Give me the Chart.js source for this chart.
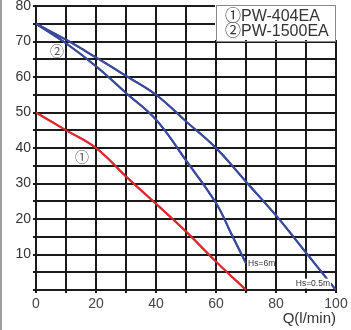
<!DOCTYPE html>
<html>
<head>
<meta charset="utf-8">
<script src="https://cdn.jsdelivr.net/npm/chart.js@4/dist/chart.umd.min.js"></script>
<style>
  html, body { margin: 0; padding: 0; background: #fff; }
  .q { width: 351px; height: 330px; position: absolute; left: 0; top: 0; }
</style>
</head>
<body>
<div class="q"><canvas id="pump"></canvas></div>
<script>
// pump curves: Q (l/min) -> head (m)
const flow404  = [0, 10, 20, 30, 40, 50, 60, 70];
const head404  = [50, 45, 40, 32, 24.3, 16.5, 8, 0];
const flowHs05 = [0, 10, 20, 30, 40, 50, 60, 70, 80, 90, 100];
const headHs05 = [75, 70.5, 65.5, 60.3, 55, 47.5, 40, 30.5, 21, 10.5, 0];
const flowHs6  = [0, 10, 20, 30, 40, 50, 60, 65, 70];
const headHs6  = [75, 69.5, 63, 55.5, 48, 36.5, 24.5, 16, 7.5];

const legendLines = ['\u2460PW-404EA', '\u2461PW-1500EA'];
const xTitle = 'Q(l/min)';

const ink  = '#1a1a1a';
const red  = '#e2262c';
const blue = '#3a4a9c';
const FONT = 'Arial, "Liberation Sans", "Noto Sans CJK SC", sans-serif';

const pts = (xs, ys) => xs.map((x, i) => ({ x, y: ys[i] }));

// grid went missing when drawn before the curves, so lay it down after
// them from the scales' ticks and then put the curve elements back on top
const gridLines = {
  id: 'gridLines',
  afterDatasetsDraw(chart) {
    const { ctx, chartArea: a, scales } = chart;
    ctx.save();
    ctx.strokeStyle = ink;
    ctx.lineWidth = 2;
    ctx.beginPath();
    scales.x.ticks.forEach(t => {
      const p = Math.round(scales.x.getPixelForValue(t.value));
      ctx.moveTo(p, a.top - 1);
      ctx.lineTo(p, a.bottom + 1);
    });
    scales.y.ticks.forEach(t => {
      const p = Math.round(scales.y.getPixelForValue(t.value));
      ctx.moveTo(a.left - 1, p);
      ctx.lineTo(a.right + 1, p);
    });
    ctx.stroke();
    ctx.restore();

    chart.data.datasets.forEach((d, i) => {
      const line = chart.getDatasetMeta(i).dataset;
      if (!line) return;
      ctx.save();
      ctx.beginPath();
      ctx.rect(a.left, a.top - 2, a.right - a.left, a.bottom - a.top + 4);
      ctx.clip();
      line.draw(ctx, a);
      ctx.restore();
    });
  }
};

// legend box, circled markers and Hs notes
const notes = {
  id: 'notes',
  afterDatasetsDraw(chart) {
    const c = chart.ctx, xs = chart.scales.x, ys = chart.scales.y;
    c.save();
    // left edge of the scan
    c.fillStyle = '#a0a0a0';
    c.fillRect(0, 0, 2, chart.height);

    // legend box over the top right grid cells
    const bx = Math.round(xs.getPixelForValue(60)), bx2 = Math.round(xs.getPixelForValue(100));
    const by = Math.round(ys.getPixelForValue(80)) - 1, by2 = Math.round(ys.getPixelForValue(70)) - 1;
    c.fillStyle = '#fff';
    c.fillRect(bx - 1, by - 2, bx2 - bx + 3, by2 - by + 1);
    c.strokeStyle = '#8a8a8a';
    c.lineWidth = 1;
    c.strokeRect(bx + 0.5, by + 0.5, bx2 - bx - 1, by2 - by);
    c.fillStyle = '#333';
    c.font = '16px ' + FONT;
    c.textBaseline = 'middle';
    c.textAlign = 'left';
    c.fillText(legendLines[0], bx + 9, ys.getPixelForValue(77));
    c.fillText(legendLines[1], bx + 9, ys.getPixelForValue(72.8));

    // circled curve markers
    c.font = '14px ' + FONT;
    c.fillStyle = '#555';
    c.textAlign = 'center';
    c.fillText('\u2461', xs.getPixelForValue(7), ys.getPixelForValue(67));
    c.fillText('\u2460', xs.getPixelForValue(15.3), ys.getPixelForValue(37.2));

    // suction height notes
    c.font = '8.5px ' + FONT;
    c.fillStyle = '#333';
    c.textAlign = 'left';
    c.fillText('Hs=6m', xs.getPixelForValue(70.7), ys.getPixelForValue(7.5));
    const t = 'Hs=0.5m';
    const w = c.measureText(t).width;
    const tx = xs.getPixelForValue(98) - w, ty = ys.getPixelForValue(1.8);
    c.fillStyle = '#fff';
    c.fillRect(tx - 1, ty - 5, w + 2, 10);
    c.fillStyle = '#333';
    c.fillText(t, tx, ty);
    c.restore();
  }
};

const x = {
  type: 'linear', min: 0, max: 100,
  ticks: { stepSize: 10, color: '#444', padding: 3, maxRotation: 0, autoSkip: false,
    font: { size: 14, family: FONT }, callback: v => (v % 20 === 0 ? v : '') },
  grid: { color: ink, lineWidth: 2, tickLength: 3 },
  border: { color: ink, width: 2 },
  title: { display: true, text: xTitle, align: 'end', color: '#333',
    font: { size: 15, family: FONT }, padding: { top: 0, bottom: 2 } },
  afterFit: s => { s.height = 40; }
};
const y = {
  type: 'linear', min: 0, max: 80,
  ticks: { stepSize: 5, color: '#333', padding: 2, autoSkip: false, font: { size: 14, family: FONT },
    callback: v => (v % 10 === 0 && v !== 0 ? v : '') },
  grid: { color: ink, lineWidth: 2, tickLength: 3 },
  border: { color: ink, width: 2 },
  afterFit: s => { s.width = 36; s.paddingTop = 6; }
};

new Chart(document.getElementById('pump'), {
  type: 'line',
  data: { datasets: [
    { data: pts(flow404, head404),   borderColor: red,  borderWidth: 2, pointRadius: 0, tension: 0.4 },
    { data: pts(flowHs05, headHs05), borderColor: blue, borderWidth: 2, pointRadius: 0, tension: 0.4 },
    { data: pts(flowHs6, headHs6),   borderColor: blue, borderWidth: 2, pointRadius: 0, tension: 0.4 }
  ] },
  options: {
    responsive: true, maintainAspectRatio: false, animation: false,
    layout: { padding: { top: 0, right: 15, left: 0, bottom: 0 } },
    plugins: { legend: { display: false }, tooltip: { enabled: false } },
    scales: { x, y }
  },
  plugins: [gridLines, notes]
});
</script>
</body>
</html>
